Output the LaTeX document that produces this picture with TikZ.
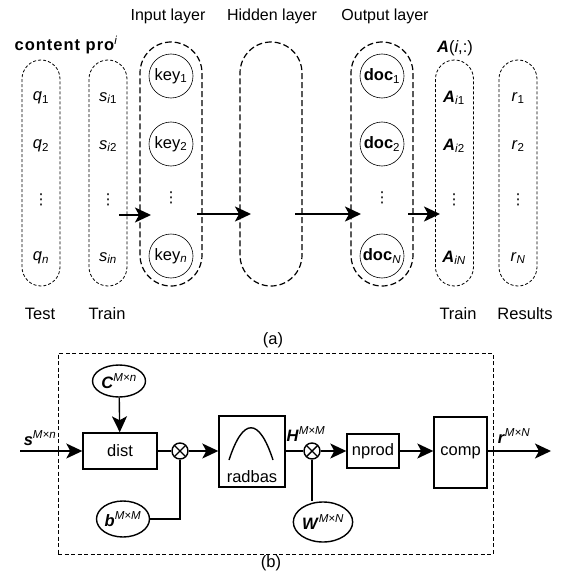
\documentclass[tikz,border=0pt]{standalone}
\usepackage{fontspec}
\setmainfont{Liberation Sans}
\newfontfamily\dvs{DejaVu Sans}
\usetikzlibrary{arrows.meta,shapes.geometric}
\newcommand{\vdotsx}{{\dvs\fontsize{15}{15}\selectfont ⋮}}
\begin{document}
\begin{tikzpicture}[x=1pt,y=-1pt,
  every node/.style={font=\fontsize{16.5}{19}\selectfont, inner sep=0pt},
  thincap/.style={draw, rectangle, dash pattern=on 3pt off 2pt, line width=0.8pt,
     minimum width=38pt, minimum height=226pt, rounded corners=19pt},
  thickcap/.style={draw, rectangle, dash pattern=on 6pt off 3pt, line width=1.2pt,
     minimum width=62pt, minimum height=244pt, rounded corners=31pt},
  keycirc/.style={draw, circle, line width=0.6pt, minimum size=44pt},
  arr/.style={-{Stealth[length=16pt,width=15pt,inset=4pt]}, line width=1.8pt},
  blk/.style={draw, rectangle, line width=1.4pt},
  ell/.style={draw, ellipse, line width=1.4pt},
  otimes/.style={draw, circle, line width=1.4pt, minimum size=16pt,
     path picture={\draw[line width=1.4pt] (path picture bounding box.south west)--(path picture bounding box.north east)
        (path picture bounding box.north west)--(path picture bounding box.south east);}},
  wire/.style={line width=1.4pt},
  warr/.style={-{Stealth[length=16pt,width=15pt,inset=4pt]}, line width=1.4pt},
  ttl/.style={font=\fontsize{16}{18}\selectfont}
]
\useasboundingbox (0,0) rectangle (561,575);

% ---------- (a) ----------
\node[ttl] (tin) at (168,16) {Input layer};
\node[ttl] (thid) at (272,16) {Hidden layer};
\node[ttl] (tout) at (385,16) {Output layer};
\node (tcp) at (66,45) {\bfseries \addfontfeature{LetterSpace=6}content pro\textsuperscript{\mdseries\itshape i}};
\node (tA) at (455,48) {\textbf{\textit{A}}(\textit{i},:)};

\node[thincap] (c1) at (41,173) {};
\node[thincap] (c2) at (108,173) {};
\node[thickcap] (cin) at (171,164) {};
\node[thickcap] (chid) at (271,164) {};
\node[thickcap] (cout) at (382,164) {};
\node[thincap] (cA) at (454.5,173) {};
\node[thincap] (cr) at (518,173) {};

% test column
\node (q1) at (41,98) {\textit{q}\textsubscript{1}};
\node (q2) at (41,146) {\textit{q}\textsubscript{2}};
\node (qd) at (41,200) {\vdotsx};
\node (qn) at (41,258) {\textit{q}\textsubscript{\itshape n}};
% train column
\node (s1) at (108,98) {\textit{s}\textsubscript{\itshape i\/\upshape 1}};
\node (s2) at (108,146) {\textit{s}\textsubscript{\itshape i\/\upshape 2}};
\node (sd) at (108,200) {\vdotsx};
\node (sn) at (108,258) {\textit{s}\textsubscript{\itshape in}};
% input layer
\node[keycirc] (k1) at (171,76) {key\textsubscript{1}};
\node[keycirc] (k2) at (171,144) {key\textsubscript{2}};
\node (kd) at (171,198) {\vdotsx};
\node[keycirc] (kn) at (171,256) {key\textsubscript{\itshape n}};
% output layer
\node[keycirc] (d1) at (382,76) {\textbf{doc}\textsubscript{1}};
\node[keycirc] (d2) at (382,144) {\textbf{doc}\textsubscript{2}};
\node (dd) at (382,198) {\vdotsx};
\node[keycirc] (dn) at (382,256) {\textbf{doc}\textsubscript{\itshape N}};
% A column
\node (A1) at (454,98) {\textbf{\textit{A}}\textsubscript{\itshape i\/\upshape 1}};
\node (A2) at (454,146) {\textbf{\textit{A}}\textsubscript{\itshape i\/\upshape 2}};
\node (Ad) at (454,200) {\vdotsx};
\node (An) at (454,258) {\textbf{\textit{A}}\textsubscript{\itshape iN}};
% r column
\node (r1) at (518,98) {\textit{r}\textsubscript{1}};
\node (r2) at (518,146) {\textit{r}\textsubscript{2}};
\node (rd) at (518,200) {\vdotsx};
\node (rn) at (518,258) {\textit{r}\textsubscript{\itshape N}};

\node (lt) at (40,314) {Test};
\node (ltr) at (107,314) {Train};
\node (ltr2) at (458,314) {Train};
\node (lres) at (525,314) {Results};
\node (la) at (273,340) {(a)};

\coordinate (a1s) at (119,215);
\coordinate (a1e) at (151,215);
\coordinate (a2s) at (197,214);
\coordinate (a2e) at (251,214);
\coordinate (a3s) at (295,214);
\coordinate (a3e) at (361,214);
\coordinate (a4s) at (408,214);
\coordinate (a4e) at (440,214);
\draw[arr] (a1s) -- (a1e);
\draw[arr] (a2s) -- (a2e);
\draw[arr] (a3s) -- (a3e);
\draw[arr] (a4s) -- (a4e);

% ---------- (b) ----------
\node[draw, rectangle, dash pattern=on 4pt off 2.5pt, line width=0.6pt,
      minimum width=435pt, minimum height=201pt] (frame) at (275.5,453.5) {};

\node[ell, minimum width=53pt, minimum height=32pt] (C) at (119,381)
   {\textbf{\textit{C}}\textsuperscript{\itshape M×n}};
\node[blk, minimum width=74pt, minimum height=36pt] (dist) at (120,451) {dist};
\node[otimes] (x1) at (180,451) {};
\node[ell, minimum width=53pt, minimum height=36pt] (b) at (123,519)
   {\textbf{\textit{b}}\textsuperscript{\itshape M×M}};
\node[blk, minimum width=66pt, minimum height=71pt] (rad) at (252,451.5) {};
\node (radt) at (252,477) {radbas};
\draw[line width=1.4pt] (229,460) .. controls (243,417) and (259,417) .. (273,460);
\node[otimes] (x2) at (312,451) {};
\node (H) at (306,434) {\textbf{\textit{H}}\textsuperscript{\itshape M×M}};
\node[ell, minimum width=57pt, minimum height=40pt] (W) at (323,522)
   {\textbf{\textit{W}}\textsuperscript{\itshape M×N}};
\node[blk, minimum width=52pt, minimum height=34pt] (np) at (373,451) {nprod};
\node[blk, minimum width=53pt, minimum height=71pt] (comp) at (460.5,452.5) {comp};

\node (s) at (40,438) {\textbf{\textit{s}}\textsuperscript{\itshape M×n}};
\node (r) at (514,436) {\textbf{\textit{r}}\textsuperscript{\itshape M×N}};

\coordinate (sin) at (20,451);
\coordinate (rout) at (551,451);

\draw[warr] (sin) -- (dist.west |- sin);
\draw[warr] (C) -- (dist);
\draw[wire] (dist.east |- x1) -- (x1);
\draw[warr] (x1) -- (rad.west |- x1);
\draw[wire] (x1) |- (b);
\draw[wire] (rad.east |- x2) -- (x2);
\draw[warr] (x2) -- (np.west |- x2);
\draw[wire] (x2) -- (x2 |- W.north);
\draw[warr] (np) -- (comp.west |- np);
\draw[warr] (comp.east |- rout) -- (rout);

\node (lb) at (271,563) {(b)};
\end{tikzpicture}
\end{document}
